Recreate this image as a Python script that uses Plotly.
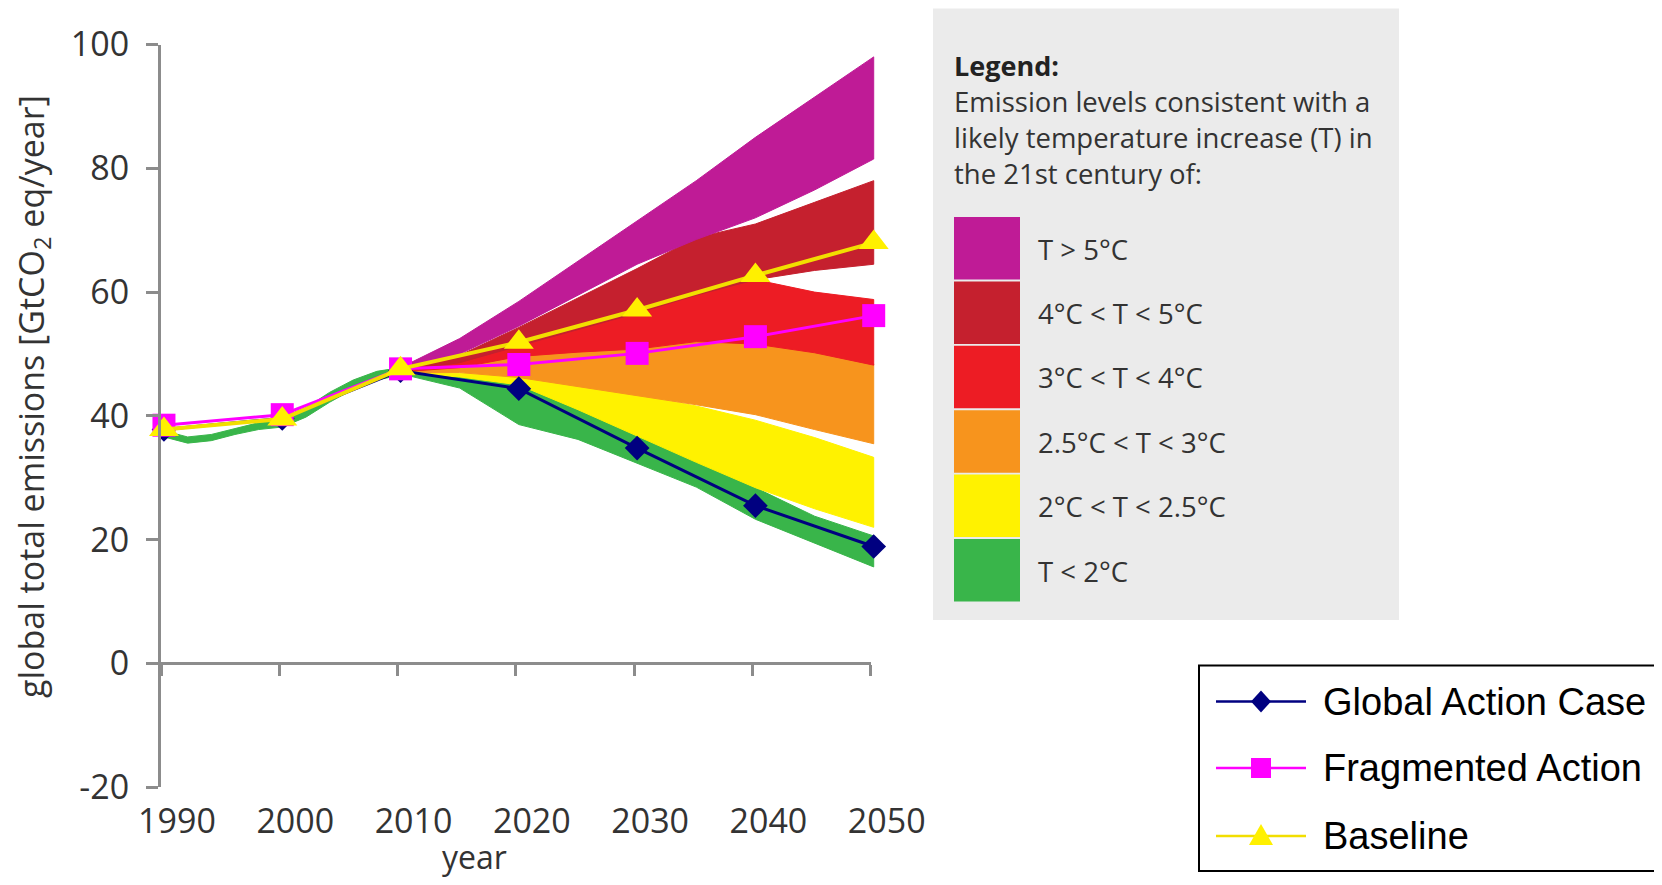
import plotly.graph_objects as go

# figure size = window minus the page's default 8px body margin on each side
W, H = 1646, 869
OFF = 8

# ---------------- data ----------------
series_years = [1990, 2000, 2010, 2020, 2030, 2040, 2050]
global_action = [37.8, 39.6, 47.3, 44.4, 34.8, 25.5, 18.9]
fragmented = [38.5, 40.2, 47.6, 48.3, 50.1, 52.8, 56.2]
baseline = [37.8, 39.5, 47.6, 51.9, 57.1, 62.7, 68.0]

hist_years = [1990, 1992, 1994, 1996, 1998, 2000, 2002, 2004, 2006, 2008, 2010]
hist_low = [36.6, 35.6, 36.0, 37.0, 37.8, 38.2, 39.8, 42.2, 44.3, 45.8, 46.6]
hist_high = [37.6, 36.6, 37.0, 38.0, 38.9, 39.4, 41.3, 43.8, 45.8, 47.2, 47.8]

band_years = [2010, 2015, 2020, 2025, 2030, 2035, 2040, 2045, 2050]
t5_high = [47.8, 52.5, 58.5, 65.0, 71.5, 78.0, 85.0, 91.5, 98.0]
t5_low = [47.3, 50.0, 54.5, 59.5, 64.5, 68.5, 72.0, 76.5, 81.5]
t45_high = [47.6, 49.8, 54.3, 59.0, 63.8, 68.8, 71.0, 74.5, 78.0]
t45_low = [47.2, 48.6, 51.3, 54.0, 56.6, 59.5, 62.0, 63.5, 64.5]
t34_high = [47.4, 48.8, 51.8, 54.3, 57.0, 60.0, 62.0, 60.0, 58.8]
t34_low = [47.1, 47.8, 49.6, 50.3, 50.8, 52.0, 51.6, 50.2, 48.2]
t253_high = [47.2, 47.9, 49.8, 50.5, 51.0, 52.2, 51.8, 50.4, 48.4]
t253_low = [47.0, 47.0, 46.2, 44.8, 43.3, 41.8, 40.2, 37.8, 35.5]
t225_high = [47.0, 46.9, 46.4, 45.0, 43.4, 41.6, 39.3, 36.5, 33.3]
t225_low = [46.9, 46.3, 45.0, 41.0, 36.7, 32.5, 28.4, 25.0, 22.0]
t2_high = [47.2, 46.6, 45.3, 41.2, 36.9, 32.7, 28.4, 23.8, 20.6]
t2_low = [46.8, 44.5, 38.6, 36.2, 32.4, 28.5, 23.3, 19.5, 15.6]

band_labels = ["T > 5°C", "4°C < T < 5°C", "3°C < T < 4°C",
               "2.5°C < T < 3°C", "2°C < T < 2.5°C", "T < 2°C"]
band_colors = ["#BF1B96", "#C5202E", "#ED1C24", "#F7941D", "#FFF200", "#39B54A"]

series_names = ["Global Action Case", "Fragmented Action", "Baseline"]
y_ticks = [-20, 0, 20, 40, 60, 80, 100]
y_ticktext = ["-20", "0", "20", "40", "60", "80", "100"]

# ---------------- helpers (screen pixels -> paper fractions) ----------------
def fx(p):
    return (p - OFF) / W

def fy(p):
    return 1 - (p - OFF) / H

AX = "#8c8c8c"
TXT = "#333333"
FONT = "Open Sans"

fig = go.Figure()

bands = [
    (t2_low, t2_high, band_colors[5]),
    (t225_low, t225_high, band_colors[4]),
    (t253_low, t253_high, band_colors[3]),
    (t34_low, t34_high, band_colors[2]),
    (t45_low, t45_high, band_colors[1]),
    (t5_low, t5_high, band_colors[0]),
]
fig.add_trace(go.Scatter(
    x=hist_years + hist_years[::-1], y=hist_high + hist_low[::-1],
    fill="toself", fillcolor=band_colors[5], mode="lines",
    line=dict(color=band_colors[5], width=1), hoverinfo="skip", showlegend=False))
for lo, hi, col in bands:
    fig.add_trace(go.Scatter(
        x=band_years + band_years[::-1], y=hi + lo[::-1],
        fill="toself", fillcolor=col, mode="lines",
        line=dict(color=col, width=1), hoverinfo="skip", showlegend=False))

fig.add_trace(go.Scatter(x=series_years, y=global_action, mode="lines+markers",
                         name=series_names[0], line=dict(color="#000080", width=3),
                         marker=dict(symbol="diamond", size=19, color="#000080"),
                         showlegend=False, cliponaxis=False))
fig.add_trace(go.Scatter(x=series_years, y=fragmented, mode="lines+markers",
                         name=series_names[1], line=dict(color="#FF00FF", width=3),
                         marker=dict(symbol="square", size=23, color="#FF00FF"),
                         showlegend=False, cliponaxis=False))
fig.add_trace(go.Scatter(x=series_years, y=baseline, mode="lines+markers",
                         name=series_names[2], line=dict(color="#F2DE00", width=4),
                         marker=dict(symbol="triangle-up", size=26, color="#FFF000"),
                         showlegend=False, cliponaxis=False))

fig.add_trace(go.Scatter(x=series_years[:1], y=[None], xaxis="x2", yaxis="y",
                         showlegend=False, hoverinfo="skip"))

shapes = []
annotations = []

# x axis line drawn at y = 0
shapes.append(dict(type="line", xref="paper", yref="y", x0=fx(148), x1=fx(871),
                   y0=0, y1=0, line=dict(color=AX, width=3)))

annotations.append(dict(text="global total emissions [GtCO<sub>2</sub> eq/year]",
                        xref="paper", yref="paper", x=fx(33), y=fy(397), textangle=-90,
                        showarrow=False, font=dict(family=FONT, size=34, color=TXT),
                        xanchor="center", yanchor="middle"))
annotations.append(dict(text="year", xref="paper", yref="paper", x=fx(475), y=fy(856),
                        showarrow=False, font=dict(family=FONT, size=32, color=TXT),
                        xanchor="center", yanchor="middle"))

# colour legend panel
shapes.append(dict(type="rect", xref="paper", yref="paper", x0=fx(933), x1=fx(1399),
                   y0=fy(620), y1=fy(8.5), fillcolor="#EBEBEB", line=dict(width=0)))
annotations.append(dict(text="<b>Legend:</b>", xref="paper", yref="paper", x=fx(952), y=fy(65),
                        showarrow=False, xanchor="left", yanchor="middle",
                        font=dict(family=FONT, size=27, color="#222222")))
for i, line in enumerate(["Emission levels consistent with a",
                          "likely temperature increase (T) in",
                          "the 21st century of:"]):
    annotations.append(dict(text=line, xref="paper", yref="paper", x=fx(952),
                            y=fy(102 + 35.5 * i), showarrow=False, xanchor="left",
                            yanchor="middle", font=dict(family=FONT, size=27.5, color=TXT)))
for i, (lab, col) in enumerate(zip(band_labels, band_colors)):
    top = 217 + 64.4 * i
    shapes.append(dict(type="rect", xref="paper", yref="paper", x0=fx(954), x1=fx(1020),
                       y0=fy(top + 62.5), y1=fy(top), fillcolor=col, line=dict(width=0)))
    annotations.append(dict(text=lab, xref="paper", yref="paper", x=fx(1036), y=fy(top + 32),
                            showarrow=False, xanchor="left", yanchor="middle",
                            font=dict(family=FONT, size=27.5, color=TXT)))

# series legend box
shapes.append(dict(type="rect", xref="paper", yref="paper", x0=fx(1199), x1=fx(1700),
                   y0=fy(871), y1=fy(665.6), fillcolor="white",
                   line=dict(color="black", width=2)))
leg_rows = [701.6, 768, 836]
leg_cols = ["#000080", "#FF00FF", "#F2DE00"]
mark_cols = ["#000080", "#FF00FF", "#FFF000"]

def path(pts):
    return "M" + " L".join(f"{fx(a):.5f},{fy(b):.5f}" for a, b in pts) + " Z"

cx = 1261
for name, yr, lc, mc, k in zip(series_names, leg_rows, leg_cols, mark_cols, range(3)):
    shapes.append(dict(type="line", xref="paper", yref="paper", x0=fx(1216), x1=fx(1306),
                       y0=fy(yr), y1=fy(yr), line=dict(color=lc, width=2.5)))
    if k == 0:
        pts = [(cx, yr - 11), (cx + 10, yr), (cx, yr + 11), (cx - 10, yr)]
    elif k == 1:
        pts = [(cx - 10, yr - 10), (cx + 10, yr - 10), (cx + 10, yr + 10), (cx - 10, yr + 10)]
    else:
        pts = [(cx - 12, yr + 9), (cx + 12, yr + 9), (cx, yr - 12)]
    shapes.append(dict(type="path", xref="paper", yref="paper", path=path(pts),
                       fillcolor=mc, line=dict(width=0)))
    annotations.append(dict(text=name, xref="paper", yref="paper", x=fx(1321), y=fy(yr),
                            showarrow=False, xanchor="left", yanchor="middle",
                            font=dict(family="Liberation Sans", size=38, color="black")))

x_lo, x_hi = 1989.75, 2050.87

fig.update_layout(
    width=W, height=H, margin=dict(l=0, r=0, t=0, b=0, autoexpand=False),
    paper_bgcolor="white", plot_bgcolor="rgba(0,0,0,0)",
    showlegend=False,
    xaxis=dict(domain=[fx(161), fx(884)], range=[x_lo, x_hi], automargin=False,
               tickvals=series_years, ticktext=[str(v) for v in series_years],
               ticks="", showline=False, showgrid=False, zeroline=False,
               tickfont=dict(family=FONT, size=34, color=TXT),
               ticklabelshift=13, ticklabelstandoff=11),
    xaxis2=dict(overlaying="x", anchor="free", position=fy(663.5), automargin=False,
                range=[x_lo + 0.25, x_hi + 0.25], tickvals=series_years,
                ticks="outside", ticklen=11, tickwidth=3, tickcolor=AX,
                showticklabels=False, showline=False, showgrid=False, zeroline=False),
    yaxis=dict(domain=[fy(787.3), fy(44.5)], range=[-20, 100], automargin=False,
               tickvals=y_ticks, ticktext=y_ticktext,
               showline=True, linecolor=AX, linewidth=3,
               ticks="outside", ticklen=12, tickwidth=3, tickcolor=AX,
               showgrid=False, zeroline=False,
               tickfont=dict(family=FONT, size=34, color=TXT),
               ticklabelstandoff=10),
    shapes=shapes, annotations=annotations,
)

fig.write_html("out.html", config={"displayModeBar": False})
